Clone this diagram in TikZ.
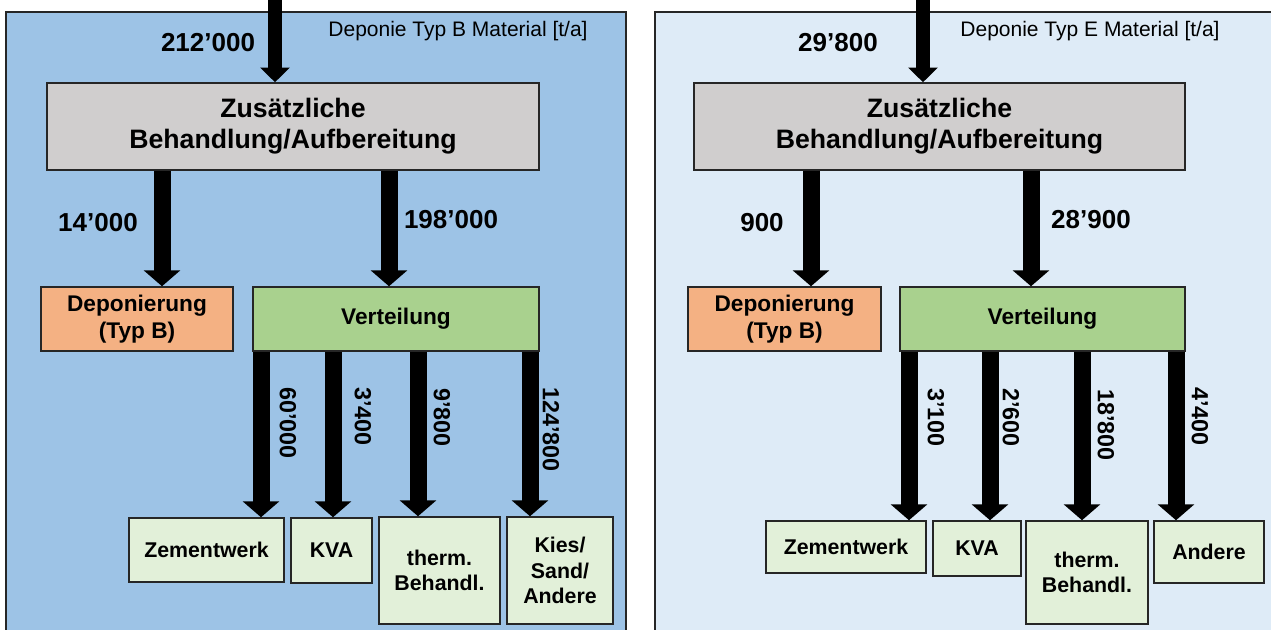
\documentclass[tikz,border=0pt]{standalone}
\usepackage{fontspec}
\setmainfont{Liberation Sans}
\usetikzlibrary{arrows.meta}
\definecolor{bgB}{HTML}{9DC3E6}
\definecolor{bgE}{HTML}{DEEBF7}
\definecolor{grayfill}{HTML}{D0CECE}
\definecolor{orangefill}{HTML}{F4B183}
\definecolor{greenfill}{HTML}{A9D18E}
\definecolor{leaffill}{HTML}{E2F0D9}
\definecolor{edgecol}{HTML}{262626}
\begin{document}
\begin{tikzpicture}[x=0.75pt,y=-0.75pt,
  sz/.style 2 args={minimum width=#1*0.75pt, minimum height=#2*0.75pt},
  box/.style={draw=edgecol, line width=1.1pt, inner sep=0pt, align=center, text=black},
  mainbox/.style={box, fill=grayfill, font=\fontsize{20}{23}\selectfont\bfseries},
  depbox/.style={box, fill=orangefill, font=\fontsize{17}{20.5}\selectfont\bfseries},
  verbox/.style={box, fill=greenfill, font=\fontsize{17}{20.5}\selectfont\bfseries},
  leafbox/.style={box, fill=leaffill, font=\fontsize{16}{19.3}\selectfont\bfseries},
  qlab/.style={inner sep=0pt, font=\fontsize{19.5}{22}\selectfont\bfseries},
  rlab/.style={inner sep=0pt, rotate=-90, anchor=west, font=\fontsize{17.5}{20}\selectfont\bfseries},
  title/.style={inner sep=0pt, font=\fontsize{15.75}{18}\selectfont},
  flow/.style={line width=12.75pt, black, -{Triangle[length=12pt, width=27pt]}},
  inflow/.style={line width=10.5pt, black, -{Triangle[length=11pt, width=21.5pt]}},
  panel/.style={draw=edgecol, line width=1.5pt}
]
\useasboundingbox (0,0) rectangle (1271,630);
\clip (0,0) rectangle (1271,630);
\fill[white] (0,0) rectangle (1271,630);

% panels
\draw[panel, fill=bgB] (6,12) rectangle (626,660);
\draw[panel, fill=bgE] (655,12) rectangle (1290,660);

% ---------- left panel (Typ B) ----------
\node[title] (titB) at (458,31) {Deponie Typ B Material [t/a]};
\node[mainbox, sz={492}{87}] (grayB) at (293,126.5) {Zusätzliche\\Behandlung/Aufbereitung};
\node[depbox, sz={192}{64}] (depB) at (137,319) {Deponierung\\(Typ B)};
\node[verbox, sz={286}{64}] (verB) at (396,319) {Verteilung};
\node[leafbox, sz={155}{64}] (zemB) at (206.5,550) {Zementwerk};
\node[leafbox, sz={81}{65}] (kvaB) at (331.5,550.5) {KVA};
\node[leafbox, sz={121}{107}] (thB) at (439.5,570.5) {therm.\\Behandl.};
\node[leafbox, sz={106}{107}] (kiesB) at (560,570.5) {Kies/\\Sand/\\Andere};

\coordinate (inB) at (275,0);
\coordinate (xB1) at (162,0);
\coordinate (xB2) at (389,0);
\coordinate (xB3) at (261,0);
\coordinate (xB4) at (333,0);
\coordinate (xB5) at (418,0);
\coordinate (xB6) at (530,0);

\draw[inflow] (inB) -- (grayB.north -| inB);
\draw[flow] (grayB.south -| xB1) -- (depB.north -| xB1);
\draw[flow] (grayB.south -| xB2) -- (verB.north -| xB2);
\draw[flow] (verB.south -| xB3) -- (zemB.north -| xB3);
\draw[flow] (verB.south -| xB4) -- (kvaB.north -| xB4);
\draw[flow] (verB.south -| xB5) -- (thB.north -| xB5);
\draw[flow] (verB.south -| xB6) -- (kiesB.north -| xB6);

\node[qlab] (qB0) at (208,43) {212’000};
\node[qlab] (qB1) at (98,223) {14’000};
\node[qlab] (qB2) at (451,220) {198’000};
\node[rlab] (qB3) at (288,387) {60’000};
\node[rlab] (qB4) at (363,387) {3’400};
\node[rlab] (qB5) at (442,388) {9’800};
\node[rlab] (qB6) at (551,387) {124’800};

% ---------- right panel (Typ E) ----------
\node[title] (titE) at (1090,31) {Deponie Typ E Material [t/a]};
\node[mainbox, sz={491}{87}] (grayE) at (939.5,126.5) {Zusätzliche\\Behandlung/Aufbereitung};
\node[depbox, sz={193}{64}] (depE) at (784.5,319) {Deponierung\\(Typ B)};
\node[verbox, sz={285}{64}] (verE) at (1042.5,319) {Verteilung};
\node[leafbox, sz={160}{52}] (zemE) at (846,547) {Zementwerk};
\node[leafbox, sz={88}{55}] (kvaE) at (977,548.5) {KVA};
\node[leafbox, sz={122}{103}] (thE) at (1087,572.5) {therm.\\Behandl.};
\node[leafbox, sz={110}{62}] (andE) at (1209,552) {Andere};

\coordinate (inE) at (923,0);
\coordinate (xE1) at (811,0);
\coordinate (xE2) at (1031,0);
\coordinate (xE3) at (909,0);
\coordinate (xE4) at (990,0);
\coordinate (xE5) at (1082,0);
\coordinate (xE6) at (1176,0);

\draw[inflow] (inE) -- (grayE.north -| inE);
\draw[flow] (grayE.south -| xE1) -- (depE.north -| xE1);
\draw[flow] (grayE.south -| xE2) -- (verE.north -| xE2);
\draw[flow] (verE.south -| xE3) -- (zemE.north -| xE3);
\draw[flow] (verE.south -| xE4) -- (kvaE.north -| xE4);
\draw[flow] (verE.south -| xE5) -- (thE.north -| xE5);
\draw[flow] (verE.south -| xE6) -- (andE.north -| xE6);

\node[qlab] (qE0) at (838,43) {29’800};
\node[qlab] (qE1) at (762,223) {900};
\node[qlab] (qE2) at (1091,220) {28’900};
\node[rlab] (qE3) at (936,388) {3’100};
\node[rlab] (qE4) at (1011,388) {2’600};
\node[rlab] (qE5) at (1106,389) {18’800};
\node[rlab] (qE6) at (1200,387) {4’400};
\end{tikzpicture}
\end{document}
